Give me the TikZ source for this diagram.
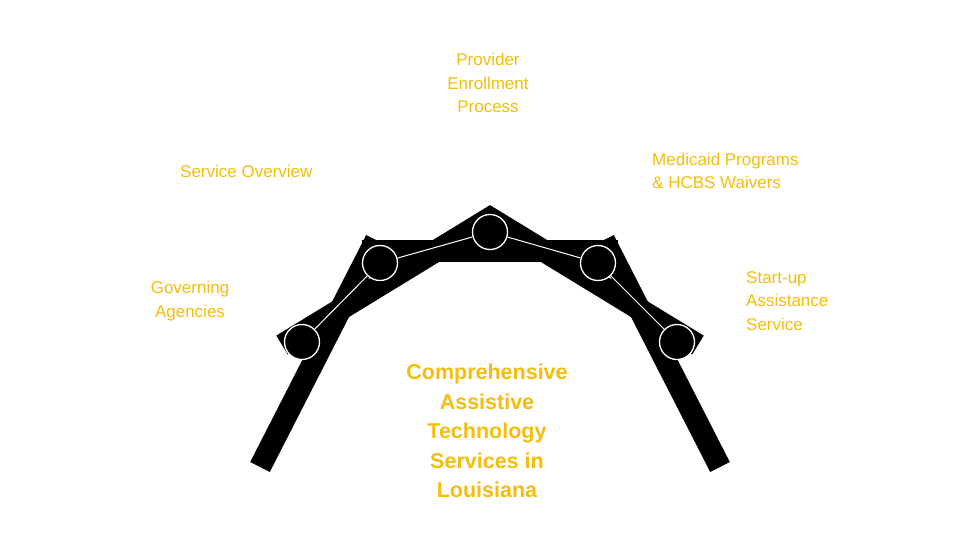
\documentclass[tikz,border=0pt]{standalone}
\usepackage{fontspec}
\setmainfont{Liberation Sans}
\definecolor{gold}{HTML}{F5BE0A}
\begin{document}
\begin{tikzpicture}[x=1pt,y=-1pt,
  lab/.style={text=gold,font=\fontsize{17}{23.5}\selectfont,inner sep=0pt},
  joint/.style={circle,fill=black,draw=white,line width=1.3pt,minimum size=35pt,inner sep=0pt},
  beam/.style={line width=22pt,black}]
\useasboundingbox[fill=white] (0,0) rectangle (980,555);
\fill (362,240) rectangle (618,262);
\coordinate (lb) at (260,467); \coordinate (lt) at (376,240);
\coordinate (rb) at (720,467); \coordinate (rt) at (604,240);
\draw[beam] (lb) -- (lt);
\draw[beam] (rb) -- (rt);
\coordinate (la) at (282,345); \coordinate (ap) at (490,218); \coordinate (ra) at (698,345);
\draw[beam] (la) -- (ap) -- (ra);
\node[joint] (c1) at (302,342) {};
\node[joint] (c2) at (380,263) {};
\node[joint] (c3) at (490,232) {};
\node[joint] (c4) at (598,263) {};
\node[joint] (c5) at (677,342) {};
\draw[white,line width=1pt] (c1) -- (c2) (c2) -- (c3) (c3) -- (c4) (c4) -- (c5);
\node[lab,align=center] (t1) at (488,83) {Provider\\Enrollment\\Process};
\node[lab,anchor=west] (t2) at (180,171) {Service Overview};
\node[lab,anchor=west,align=left] (t3) at (652,171) {Medicaid Programs\\\& HCBS Waivers};
\node[lab,align=center] (t4) at (190,301) {Governing\\Agencies};
\node[lab,anchor=west,align=left] (t5) at (746,301) {Start-up\\Assistance\\Service};
\node[text=gold,font=\bfseries\fontsize{21.5}{29.5}\selectfont,align=center] (m) at (487,431) {Comprehensive\\Assistive\\Technology\\Services in\\Louisiana};
\end{tikzpicture}
\end{document}
